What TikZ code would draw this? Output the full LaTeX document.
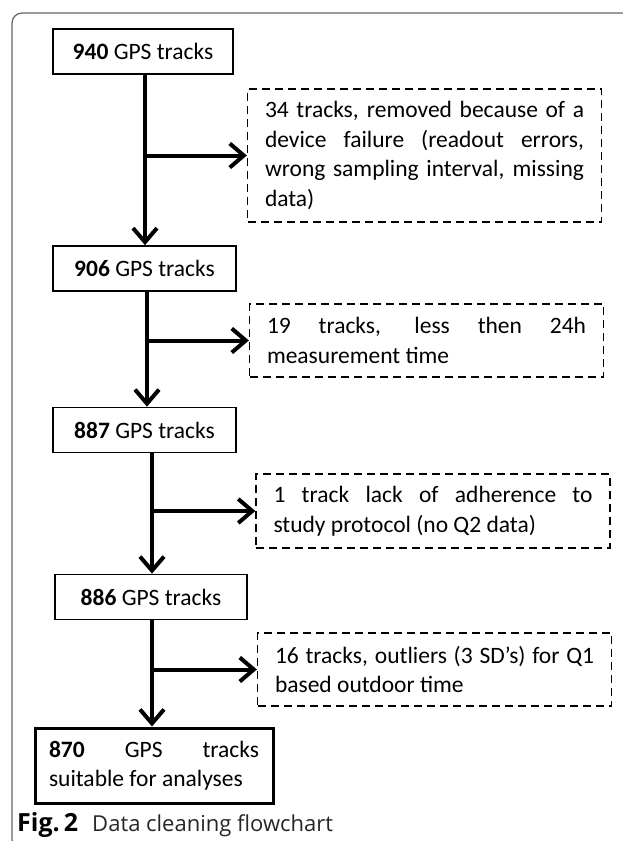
\documentclass[tikz,border=0pt]{standalone}
\usepackage{fontspec}
\setmainfont{Carlito}
\newfontfamily\capfont{Open Sans}
\usetikzlibrary{arrows.meta}

\begin{document}
\begin{tikzpicture}[x=1pt, y=1pt, font=\fontsize{23.5}{29.5}\selectfont,
      trackbox/.style={draw, line width=1.7pt, align=center, inner sep=0pt, minimum height=45pt},
      dropbox/.style={draw, dash pattern=on 8pt off 5pt, line width=1.3pt, align=justify, inner xsep=17.5pt, inner ysep=0pt, text width=319pt},
      flowarr/.style={-{Straight Barb[length=14pt, width=24pt]}, line width=4pt}]
    \useasboundingbox (0,0) rectangle (622,-841);
    % frame of the figure
    \draw[black!60, line width=1.2pt, rounded corners=10pt] (640,-13) -- (12,-13) -- (12,-849) -- (60,-849);
    \node[trackbox, minimum width=180pt] (t940) at (143,-51.5)   {\textbf{940} GPS tracks};
    \node[trackbox, minimum width=183pt] (t906) at (144.5,-268.5) {\textbf{906} GPS tracks};
    \node[trackbox, minimum width=183pt] (t887) at (144.5,-430)   {\textbf{887} GPS tracks};
    \node[trackbox, minimum width=192pt] (t886) at (151,-597)     {\textbf{886} GPS tracks};
    \node[trackbox, line width=3pt, minimum width=238pt, minimum height=75pt, text width=210pt, align=justify] (t870) at (154,-765.5)
      {\textbf{870} GPS tracks\linebreak suitable for analyses};
    \node[dropbox, minimum height=133pt] (d34) at (424.5,-155.5)
      {34 tracks, removed because of a\linebreak device failure (readout errors,\linebreak wrong sampling interval, missing\linebreak data)};
    \node[dropbox, minimum height=73pt] (d19) at (426.5,-340.5) {19 tracks, less then 24h\linebreak measurement time};
    \node[dropbox, minimum height=74pt] (d1) at (433,-511)      {1 track lack of adherence to\linebreak study protocol (no Q2 data)};
    \node[dropbox, minimum height=73pt] (d16) at (434.5,-669.5) {16 tracks, outliers (3 SD’s) for Q1\linebreak based outdoor time};
    \foreach \a/\b/\d/\dx in {t940/t906/d34/2, t906/t887/d19/2.5, t887/t886/d1/7.5, t886/t870/d16/1} {
      \draw[flowarr] ([xshift=\dx pt]\a.south) -- ([xshift=\dx pt]\a.south |- \b.north);
      \draw[flowarr] ([xshift=\dx pt]\a.south |- \d.west) -- (\d.west);
    }
    \node[anchor=base west, inner sep=0pt] (cap) at (17,-831)
      {\capfont\fontsize{22}{26}\selectfont{\fontsize{25}{26}\selectfont\bfseries Fig.\,2}\hspace{14pt}{\color{black!85}Data cleaning flowchart}};
  \end{tikzpicture}
\end{document}
